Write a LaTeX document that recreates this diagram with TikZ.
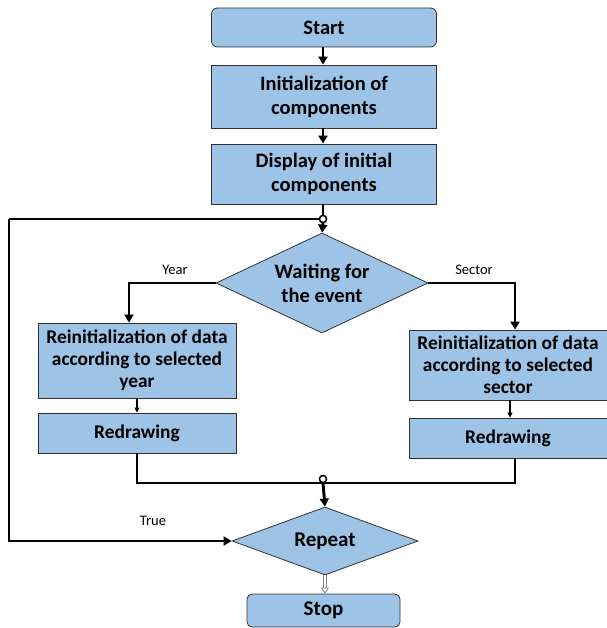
\documentclass[tikz,border=0pt]{standalone}
\usepackage{fontspec}
\setmainfont{Carlito}
\usetikzlibrary{shapes.geometric,arrows.meta}
\definecolor{boxblue}{RGB}{157,195,230}
\definecolor{edge}{RGB}{50,50,50}
\tikzset{
  box/.style={draw=edge, fill=boxblue, line width=0.8pt, align=center, inner sep=0pt,
    font=\bfseries\fontsize{20.5}{24}\selectfont},
  smallbox/.style={box, font=\bfseries\fontsize{19.4}{22}\selectfont},
  dia/.style={diamond, draw=edge, fill=boxblue, line width=0.8pt, inner sep=0pt},
  diatext/.style={font=\bfseries\fontsize{20.5}{24}\selectfont, align=center},
  lbl/.style={font=\fontsize{14.5}{16}\selectfont},
  flow/.style={line width=2.9pt, -{Triangle[length=8pt,width=9pt]}},
  flowline/.style={line width=2.9pt},
  thin/.style={line width=1.1pt, -{Triangle[length=5pt,width=5pt]}},
  junc/.style={circle, draw=black, fill=white, line width=1.3pt, inner sep=0pt, minimum size=7pt}
}
\begin{document}
\begin{tikzpicture}[x=1pt,y=-1pt]
\useasboundingbox (0,0) rectangle (606,628);
\node[box, rounded corners=6pt, minimum width=225pt, minimum height=39pt] (start) at (324,27.5) {Start};
\node[box, minimum width=225pt, minimum height=63pt] (init) at (324,96.5) {Initialization of\\components};
\node[box, minimum width=225pt, minimum height=60pt] (disp) at (324,174) {Display of initial\\components};
\node[junc] (j1) at (323,219) {};
\node[dia, minimum width=212pt, minimum height=100pt] (wait) at (322,283) {};
\node[diatext] (waitt) at (wait.center) {Waiting for\\the event};
\node[smallbox, minimum width=198pt, minimum height=75pt] (ry) at (137,360.5) {Reinitialization of data\\according to selected\\year};
\node[smallbox, minimum width=198pt, minimum height=40pt] (dy) at (137,433) {Redrawing};
\node[smallbox, minimum width=198pt, minimum height=70pt] (rs) at (508,365) {Reinitialization of data\\according to selected\\sector};
\node[smallbox, minimum width=198pt, minimum height=40pt] (ds) at (508,438) {Redrawing};
\node[junc] (j2) at (323,479) {};
\node[dia, minimum width=186pt, minimum height=68pt] (rep) at (325,541) {};
\node[diatext, font=\bfseries\fontsize{21}{25}\selectfont] (rept) at (rep.center) {Repeat};
\node[box, rounded corners=5pt, minimum width=153pt, minimum height=33pt, font=\bfseries\fontsize{21}{25}\selectfont] (stop) at (323.5,610.5) {Stop};
\coordinate (lc) at (9,219);
\coordinate (mc) at (323,483);
\node[lbl] (year) at (175,270) {Year};
\node[lbl] (sector) at (474,270) {Sector};
\node[lbl] (true) at (153,521) {True};
% connectors
\draw[flow] (start.south -| 323,0) -- (init.north -| 323,0);
\draw[flow] (init.south -| 323,0) -- (disp.north -| 323,0);
\draw[flowline] (disp.south -| j1) -- (j1.north);
\draw[flow] (j1.south) -- (wait.north);
\draw[flowline] (j1.west) -- (lc);
\draw[flow] (lc) |- (rep.west);
\draw[flow] (wait.west) -| ([xshift=-8pt]ry.north);
\draw[flow] (wait.east) -| ([xshift=7pt]rs.north);
\draw[thin] (ry.south) -- (dy.north);
\draw[thin] ([xshift=2pt]rs.south) -- ([xshift=2pt]ds.north);
\draw[flowline] (dy.south) |- (mc) -| ([xshift=7pt]ds.south);
\draw[flowline] (j2.south) -- (mc);
\draw[flow] (mc) -- (rep.north);
\draw[draw=gray, double=white, double distance=2pt, line width=0.7pt, -{Triangle[open,length=6pt,width=8pt,fill=white]}] (rep.south) -- (stop.north -| rep.south);
\node[junc] at (j1) {};
\node[junc] at (j2) {};
\end{tikzpicture}
\end{document}
